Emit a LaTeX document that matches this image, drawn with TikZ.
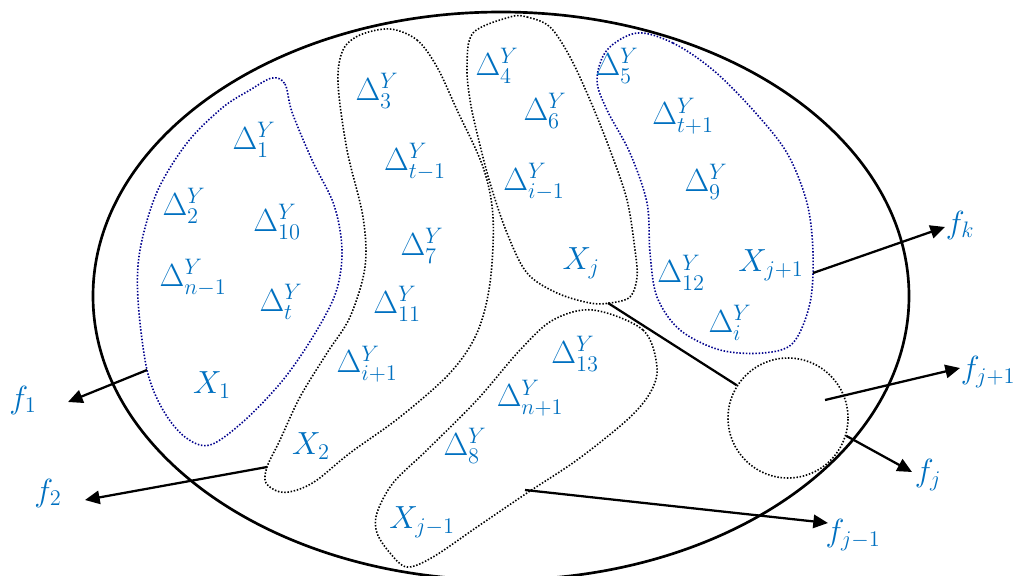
\RequirePackage{fix-cm}
\documentclass[tikz,border=0pt]{standalone}
\usetikzlibrary{arrows.meta}
\definecolor{labblue}{RGB}{0,112,192}
\definecolor{blobnavy}{RGB}{0,0,140}
\tikzset{
  lab/.style={text=labblue, font=\fontsize{24}{28}\selectfont, inner sep=0pt},
  outer/.style={draw=black, line width=2pt},
  blobblack/.style={draw=black, line width=1.2pt, dash pattern=on 1.1pt off 1.3pt},
  blobblue/.style={draw=blobnavy, line width=1.2pt, dash pattern=on 1.1pt off 1.3pt},
  conn/.style={draw=black, line width=1.7pt},
  arr/.style={conn, -{Triangle[length=11pt,width=10pt]}},
}
\begin{document}
\begin{tikzpicture}[x=0.75pt, y=-0.75pt]
\useasboundingbox (0,0) rectangle (1016,575);
% outer ellipse
\draw[outer] (501,296) ellipse [x radius=306pt, y radius=213pt];

% blob 1 (blue)
\draw[blobblue] plot[smooth cycle, tension=0.55] coordinates {
 (272,78) (285,84) (292,112) (312,160) (334,205) (342,250) (336,292) (314,335)
 (283,380) (245,420) (210,445) (185,437) (163,410) (147,370) (138,300)
 (140,250) (157,192) (187,143) (222,108) (250,90)};
% blob 2 (black)
\draw[blobblack] plot[smooth cycle, tension=0.55] coordinates {
 (390,29) (417,40) (437,67) (457,110) (483,167) (493,217) (490,283) (477,333)
 (450,373) (400,417) (350,453) (317,480) (297,490) (280,492) (266,483)
 (267,467) (280,440) (300,397) (327,353) (350,317) (365,267) (363,217)
 (347,150) (338,83) (343,50) (360,35)};
% blob 3 (black)
\draw[blobblack] plot[smooth cycle, tension=0.55] coordinates {
 (510,17) (527,17) (550,27) (570,57) (590,100) (610,150) (627,200) (635,250)
 (637,277) (630,297) (610,303) (590,303) (557,293) (527,273) (507,233)
 (490,183) (477,133) (470,100) (467,67) (473,33)};
% blob 4 (blue)
\draw[blobblue] plot[smooth cycle, tension=0.55] coordinates {
 (637,33) (673,43) (713,70) (753,110) (787,153) (807,203) (813,253) (810,303)
 (793,343) (763,353) (720,350) (680,330) (657,297) (650,253) (647,203)
 (630,153) (607,110) (597,80) (607,50)};
% blob 5 (black)
\draw[blobblack] plot[smooth cycle, tension=0.55] coordinates {
 (593,310) (643,330) (657,367) (650,393) (627,420) (577,460) (527,493)
 (477,527) (433,557) (407,567) (390,553) (377,533) (377,513) (393,483)
 (427,450) (477,400) (520,350) (553,320)};
% circle
\node[circle, blobblack, minimum size=90pt, inner sep=0pt] (c) at (788,418) {};

% labels
\node[lab] (d1) at (254,140) {$\Delta^Y_{1}$};
\node[lab] (d2) at (184,206) {$\Delta^Y_{2}$};
\node[lab] (d10) at (277,222) {$\Delta^Y_{10}$};
\node[lab] (dn1) at (193,278) {$\Delta^Y_{n-1}$};
\node[lab] (dt) at (281,302) {$\Delta^Y_{t}$};
\node[lab] (x1) at (212,385) {$X_1$};
\node[lab] (x2) at (311,446) {$X_2$};
\node[lab] (d3) at (377,91) {$\Delta^Y_{3}$};
\node[lab] (dtm) at (415,162) {$\Delta^Y_{t-1}$};
\node[lab] (d7) at (422,246) {$\Delta^Y_{7}$};
\node[lab] (d11) at (397,304) {$\Delta^Y_{11}$};
\node[lab] (dip) at (367,364) {$\Delta^Y_{i+1}$};
\node[lab] (d4) at (497,66) {$\Delta^Y_{4}$};
\node[lab] (d6) at (545,111) {$\Delta^Y_{6}$};
\node[lab] (dim) at (534,182) {$\Delta^Y_{i-1}$};
\node[lab] (xj) at (581,263) {$X_j$};
\node[lab] (d5) at (617,66) {$\Delta^Y_{5}$};
\node[lab] (dtp) at (683,116) {$\Delta^Y_{t+1}$};
\node[lab] (d9) at (706,182) {$\Delta^Y_{9}$};
\node[lab] (d12) at (681,273) {$\Delta^Y_{12}$};
\node[lab] (xjp) at (771,265) {$X_{j+1}$};
\node[lab] (di) at (730,323) {$\Delta^Y_{i}$};
\node[lab] (d13) at (575,354) {$\Delta^Y_{13}$};
\node[lab] (dnp) at (530,398) {$\Delta^Y_{n+1}$};
\node[lab] (d8) at (465,446) {$\Delta^Y_{8}$};
\node[lab] (xjm) at (422,522) {$X_{j-1}$};

\node[lab] (f1) at (23,400) {$f_1$};
\node[lab] (f2) at (48,493) {$f_2$};
\node[lab] (fk) at (960,225) {$f_k$};
\node[lab] (fjp) at (988,372) {$f_{j+1}$};
\node[lab] (fj) at (928,475) {$f_j$};
\node[lab] (fjm) at (853,535) {$f_{j-1}$};

% connector coordinates
\coordinate (s1) at (147,370);
\coordinate (t1) at (68,402);
\coordinate (s2) at (267,467);
\coordinate (t2) at (85,500);
\coordinate (sk) at (813,273);
\coordinate (tk) at (945,227);
\coordinate (sjm) at (525,490);
\coordinate (tjm) at (828,523);
\coordinate (sb3) at (608,303);
\coordinate (sjp) at (825,400);
\coordinate (tjp) at (960,368);
\coordinate (tj) at (912,472);

\draw[arr] (s1) -- (t1);
\draw[arr] (s2) -- (t2);
\draw[arr] (sk) -- (tk);
\draw[arr] (sjm) -- (tjm);
\draw[conn] (sb3) -- (c);
\draw[arr] (sjp) -- (tjp);
\draw[arr] (c.-17) -- (tj);
\end{tikzpicture}
\end{document}
